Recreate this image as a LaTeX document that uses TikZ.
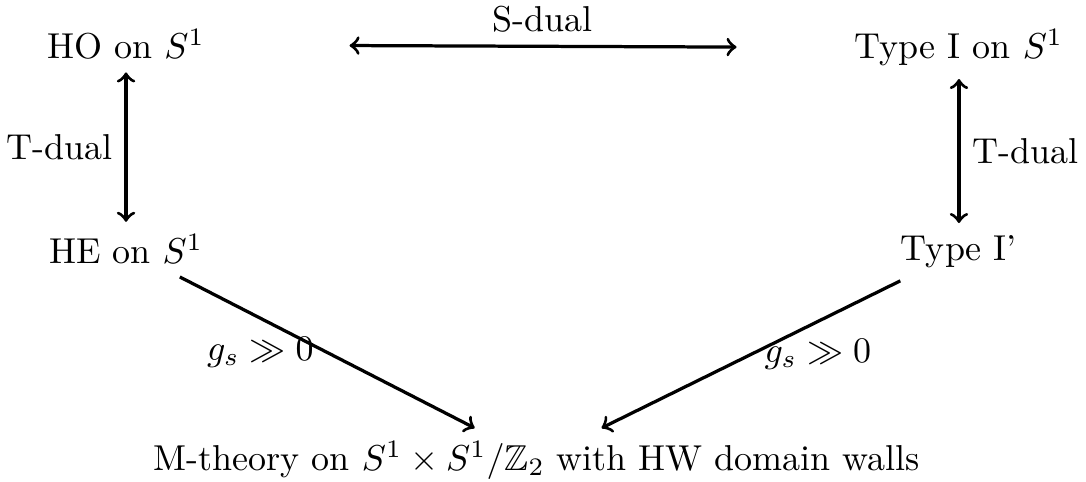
\documentclass[tikz,border=0pt]{standalone}
\usepackage{amssymb}
\begin{document}
\begin{tikzpicture}[
    theory/.style={anchor=base},
    arrow/.style={->, line width=0.9pt},
    twoway/.style={<->, line width=0.9pt},
]
\useasboundingbox (0,0) rectangle (10.6,4.695);

% ====== Theories on a circle ======
\node[theory] (ho) at (1.23, 4.12) {HO on $S^1$};
\node[theory] (typeI) at (9.36, 4.12) {Type I on $S^1$};
\node[theory] (he) at (1.23, 2.12) {HE on $S^1$};
\node[theory] (typeIp) at (9.36, 2.15) {Type I'};

% ====== Strong coupling limit ======
\node[theory] (mth) at (5.24, 0.107) {M-theory on $S^1 \times S^1/\mathbb{Z}_2$ with HW domain walls};

% ====== Dualities ======
\draw[twoway, shorten <=1.29cm, shorten >=1.03cm] (ho) -- node[above, pos=0.52] {S-dual} (typeI);
\draw[twoway] (ho) -- node[left] {T-dual} (he);
\draw[twoway] (typeI) -- node[right] {T-dual} (typeIp);

\draw[arrow] (he) -- node[left] {$g_s \gg 0$} (mth);
\draw[arrow] (typeIp) -- node[right] {$g_s \gg 0$} (mth);

\end{tikzpicture}
\end{document}
